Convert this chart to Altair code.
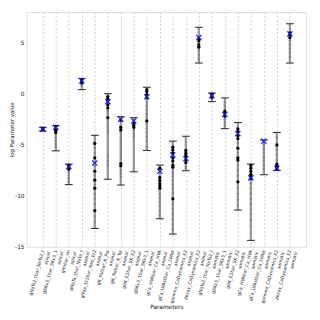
import altair as alt
import pandas as pd

names = ["gNaTs2_tbar_NaTs2_t", "gSKv3_1bar_SKv3_1", "gImbar_Im", "gNaTa_tbar_NaTa_t",
         "gNap_Et2bar_Nap_Et2", "gK_Pstbar_K_Pst", "gK_Tstbar_K_Tst", "gSK_E2bar_SK_E2",
         "gSKv3_1bar_SKv3_1", "gCa_HVAbar_Ca_HVA", "gCa_LVAstbar_Ca_LVAst", "gamma_CaDynamics_E2",
         "decay_CaDynamics_E2", "gNaTs2_tbar_NaTs2_t", "gSKv3_1bar_SKv3_1", "gSK_E2bar_SK_E2",
         "gCa_HVAbar_Ca_HVA", "gCa_LVAstbar_Ca_LVAst", "gamma_CaDynamics_E2", "decay_CaDynamics_E2"]
locations = ["apical"] * 3 + ["axonal"] * 10 + ["somatic"] * 7

max_vals = [-3.3, -3.15, -6.9, 1.5, -4.08, 0.0, -2.26, -2.35, 0.63, -7.0,
            -4.65, -4.17, 6.5, 0.06, -0.41, -2.83, -6.9, -4.55, -3.8, 6.85]
min_vals = [-3.65, -5.6, -8.9, 0.4, -13.2, -8.38, -8.95, -7.65, -5.56, -12.25,
            -13.75, -7.55, 3.0, -0.78, -3.42, -11.4, -14.37, -7.94, -7.53, 3.0]
mean_vals = [-3.5, -3.3, -7.15, 1.25, -6.8, -0.78, -2.5, -2.67, -0.31, -7.6,
             -6.0, -6.37, 5.5, -0.2, -2.04, -3.92, -8.25, -4.65, -7.3, 5.85]

black_pts = [
    [-3.4, -3.5, -3.55],
    [-3.2, -3.4, -3.6, -3.8],
    [-7.0, -7.2, -7.4],
    [1.35, 1.15, 1.05],
    [-4.87, -6.3, -7.6, -8.47, -9.26, -11.45],
    [-0.3, -0.5, -0.7, -1.1, -1.4, -2.35],
    [-2.6, -3.3, -3.55, -6.85, -7.06],
    [-2.9, -3.1, -3.3],
    [0.4, 0.2, -0.1, -0.4, -2.67],
    [-7.3, -8.2, -8.5, -8.8, -9.0, -9.26],
    [-5.24, -5.5, -5.8, -6.3, -6.6, -7.0, -7.2, -10.3],
    [-5.56, -5.8, -6.0, -6.2, -6.5, -6.75],
    [5.4, 5.18, 4.8, 4.55],
    [-0.05, -0.25, -0.35],
    [-1.73, -1.9, -2.2],
    [-3.45, -3.7, -4.1, -4.4, -5.34, -6.28, -6.5, -8.63],
    [-7.0, -7.3, -7.6, -7.9, -8.1, -8.3],
    [],
    [-5.02, -6.9, -7.05, -7.2, -7.37],
    [5.96, 5.75, 5.5],
]

gray_pts = [
    [],
    [-4.0, -4.3, -4.6, -4.9, -5.2],
    [-7.7, -8.0, -8.3, -8.6],
    [0.8],
    [-5.3, -5.8, -7.1, -8.0, -8.9, -9.8, -10.3, -10.8, -12.0, -12.6],
    [-1.7, -2.0, -2.7, -3.0, -3.3, -3.6, -3.8, -6.1, -6.6, -7.0],
    [-3.9, -4.2, -4.5, -4.8, -5.1, -5.4, -5.7, -6.0, -6.3, -7.5, -7.8, -8.1],
    [-3.6, -3.9, -4.2],
    [-0.8, -1.2, -1.6, -2.0, -2.3, -3.0, -3.4, -3.8, -4.2, -4.6, -5.2],
    [-9.8, -10.2, -10.6, -11.0, -11.5, -11.9],
    [-7.7, -8.1, -8.5, -8.9, -9.3, -9.7, -10.8, -11.3, -11.8, -12.3, -12.8, -13.3],
    [-7.1, -7.3],
    [4.2, 3.8, 3.4],
    [-0.55],
    [-0.8, -1.2, -1.5, -2.5, -2.8, -3.1],
    [-4.8, -5.8, -7.0, -7.5, -8.0, -9.2, -9.8, -10.4, -10.9],
    [-8.8, -9.3, -9.8, -10.3, -10.8, -11.3, -11.8, -12.4, -13.0],
    [-5.0, -5.4, -5.8, -6.2, -6.6, -7.0, -7.4],
    [-4.3, -5.5, -6.0, -6.5],
    [5.2, 4.8, 4.4, 4.0, 3.6],
]

idx = list(range(1, len(names) + 1))

summary = pd.DataFrame({"idx": idx, "lo": min_vals, "hi": max_vals, "mean": mean_vals})
caps = pd.DataFrame({"idx": idx + idx, "v": min_vals + max_vals})
black_df = pd.DataFrame([{"idx": i + 1, "v": v} for i, vs in enumerate(black_pts) for v in vs])
gray_df = pd.DataFrame([{"idx": i + 1, "v": v} for i, vs in enumerate(gray_pts) for v in vs])

label_arr = "[" + ",".join("['%s','%s']" % (n, l) for n, l in zip(names, locations)) + "]"

xscale = alt.Scale(domain=[-0.25, 21.25], nice=False, zero=False)
yscale = alt.Scale(domain=[-15, 8], nice=False, zero=False)

xaxis = alt.Axis(values=idx, tickCount=40, title="Parameters", grid=True, gridDash=[2, 2],
                 gridColor="#c0c0c0", gridWidth=0.8, ticks=False, domain=False,
                 labelExpr=label_arr + "[datum.value-1]", labelAngle=285,
                 labelAlign="right", labelBaseline="middle", labelFontSize=4.6,
                 labelPadding=3, labelOverlap=False, labelBound=False, labelFlush=False,
                 labelColor="#222", titleFontSize=6, titleFontWeight="normal",
                 titleY=58, titleBaseline="top", titleColor="#111")
yaxis = alt.Axis(values=[-15, -10, -5, 0, 5], tickCount=10, title="log Parameter value",
                 grid=False, ticks=False, domain=False, labelExpr="toString(datum.value)",
                 labelFontSize=6, labelPadding=2.5, labelColor="#222",
                 titleFontSize=5.6, titleFontWeight="normal", titlePadding=0.5, titleColor="#111")


def X():
    return alt.X("idx:Q", scale=xscale, axis=xaxis, title="Parameters")


def Y(field):
    return alt.Y(field, scale=yscale, axis=yaxis, title="log Parameter value")


rules = alt.Chart(summary).mark_rule(color="#8a8a8a", strokeWidth=2.4, opacity=0.85).encode(
    x=X(), y=Y("lo:Q"), y2="hi:Q")

grays = alt.Chart(gray_df).mark_point(shape="cross", filled=True, size=6, color="#777777",
                                      opacity=0.8).encode(x=X(), y=Y("v:Q"))

capm = alt.Chart(caps).mark_point(shape="M-1,0L1,0", filled=False, size=64, color="#333333",
                                  strokeWidth=1.1, opacity=1).encode(x=X(), y=Y("v:Q"))

blacks = alt.Chart(black_df).mark_circle(size=11, color="black", opacity=1).encode(
    x=X(), y=Y("v:Q"))

means = alt.Chart(summary).mark_point(shape="M-1,-1L1,1M-1,1L1,-1", filled=False, size=28,
                                      color="#1a1aee", strokeWidth=1.3, opacity=0.95).encode(
    x=X(), y=Y("mean:Q"))

chart = alt.layer(rules, grays, capm, blacks, means).properties(
    width=287, height=241,
    autosize=alt.AutoSizeParams(type="none"),
    padding={"left": 19, "top": 0, "right": 6, "bottom": 70},
).configure_view(stroke="#3a3a3a", strokeWidth=1.2).configure(font="DejaVu Sans")

chart.save("out.html", embed_options={"renderer": "svg", "actions": False})
